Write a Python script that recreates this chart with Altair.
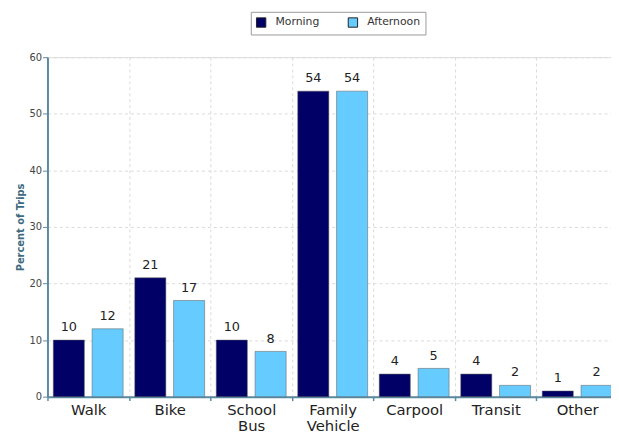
import altair as alt
import pandas as pd

categories = ["Walk", "Bike", "School Bus", "Family Vehicle", "Carpool", "Transit", "Other"]
morning = [10, 21, 10, 54, 4, 4, 1]
afternoon = [12, 17, 8, 54, 5, 2, 2]
periods = ["Morning", "Afternoon"]
colors = ["#000066", "#66ccff"]
y_ticks = [0, 10, 20, 30, 40, 50, 60]

rows = []
for c, m, a in zip(categories, morning, afternoon):
    rows.append({"mode": c, "period": "Morning", "value": m})
    rows.append({"mode": c, "period": "Afternoon", "value": a})
df = pd.DataFrame(rows)

FONT = "DejaVu Sans"
AXIS_COL = "#5a8aa0"
GRID_COL = "#d9d9d9"

x_enc = alt.X(
    "mode:N",
    sort=categories,
    scale=alt.Scale(range=[0, 578], paddingInner=0, paddingOuter=0),
    axis=alt.Axis(
        title=None,
        labelAngle=0,
        tickBand="extent",
        labelExpr="split(datum.label, ' ')",
        labelFont=FONT,
        labelFontSize=15,
        labelColor="#222222",
        labelLineHeight=16,
        labelPadding=2,
        tickSize=4,
        tickColor=AXIS_COL,
        tickWidth=1.5,
        domainColor=AXIS_COL,
        domainWidth=2,
        grid=True,
        gridDash=[3, 3],
        gridColor=GRID_COL,
    ),
)
xoff = alt.XOffset(
    "period:N",
    sort=periods,
    scale=alt.Scale(paddingInner=0.2, paddingOuter=0.15),
)
y_enc = alt.Y(
    "value:Q",
    scale=alt.Scale(domain=[0, 60], nice=False),
    axis=alt.Axis(
        title="Percent of Trips",
        values=y_ticks,
        titleFont=FONT,
        titleFontSize=10,
        titleFontWeight="bold",
        titleColor="#3d6a80",
        titlePadding=4,
        labelFont=FONT,
        labelFontSize=10,
        labelColor="#444444",
        labelPadding=1,
        tickSize=5,
        tickColor=AXIS_COL,
        domainColor=AXIS_COL,
        domainWidth=2,
        grid=True,
        gridDash=[3, 3],
        gridColor=GRID_COL,
    ),
)

base = alt.Chart(df)

bars = base.mark_bar(stroke="#555555", strokeWidth=0.5).encode(
    x=x_enc,
    xOffset=xoff,
    y=y_enc,
    color=alt.Color(
        "period:N",
        sort=periods,
        scale=alt.Scale(domain=periods, range=colors),
        legend=alt.Legend(
            title=None,
            orient="none",
            legendX=206,
            legendY=-46,
            direction="horizontal",
            symbolType="square",
            symbolSize=90,
            symbolStrokeColor="#222222",
            symbolStrokeWidth=1,
            labelFont=FONT,
            labelFontSize=11,
            labelColor="#333333",
            labelOffset=9,
            columnPadding=26,
            padding=5,
            fillColor="white",
            strokeColor="#999999",
        ),
    ),
)

labels = base.mark_text(
    baseline="bottom", dy=-6, font=FONT, fontSize=13, color="#222222"
).encode(
    x=alt.X("mode:N", sort=categories),
    xOffset=alt.XOffset("period:N", sort=periods),
    y="value:Q",
    text="value:Q",
)

chart = (
    alt.layer(bars, labels)
    .properties(
        width=571,
        height=344,
        autosize=alt.AutoSizeParams(type="none"),
        padding={"left": 40, "top": 47, "right": 0, "bottom": 37},
    )
    .configure_view(stroke=None)
    .configure(background="white")
)

chart.save("out.html", embed_options={"renderer": "svg", "actions": False})
